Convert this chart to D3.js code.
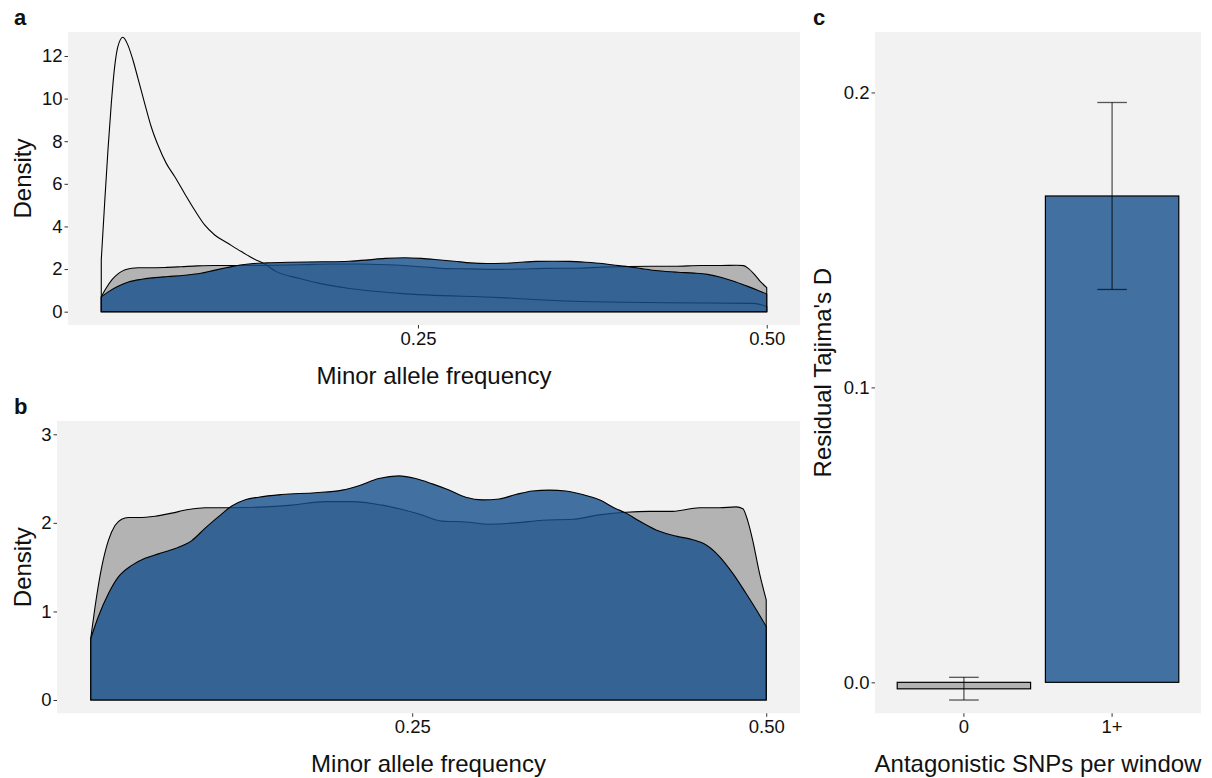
<!DOCTYPE html>
<html>
<head>
<meta charset="utf-8">
<script src="https://cdn.jsdelivr.net/npm/d3@7"></script>
<style>
  body { margin: 0; background: #fff; }
  text { font-family: "Liberation Sans", Arial, Helvetica, sans-serif; fill: #111; }
</style>
</head>
<body>
<svg id="chart" width="1212" height="778"></svg>
<script>
// density curves (minor allele frequency vs density)
const peakMaf = [0.023, 0.0254, 0.0278, 0.0302, 0.0326, 0.0349, 0.0385, 0.0421, 0.0457, 0.0493, 0.0541, 0.0588, 0.0636, 0.0696, 0.0756, 0.0827, 0.0899, 0.0971, 0.1043, 0.1138, 0.1234, 0.1329, 0.1401, 0.1485, 0.1652, 0.1795, 0.2010, 0.2369, 0.3086, 0.3564, 0.4281, 0.4902, 0.5]
const peakDensity = [2.43, 5.08, 7.59, 9.78, 11.5, 12.44, 12.88, 12.51, 11.81, 10.95, 9.78, 8.68, 7.82, 6.96, 6.34, 5.55, 4.77, 4.07, 3.60, 3.21, 2.82, 2.46, 2.24, 1.88, 1.56, 1.33, 1.09, 0.86, 0.66, 0.50, 0.42, 0.39, 0.25]

const greyMaf = [0.023, 0.026, 0.0307, 0.0354, 0.0401, 0.0448, 0.0495, 0.0566, 0.0684, 0.0802, 0.0920, 0.1038, 0.1226, 0.1462, 0.1651, 0.1887, 0.2076, 0.2288, 0.2548, 0.2713, 0.2878, 0.3043, 0.3231, 0.3420, 0.3632, 0.3821, 0.4010, 0.4175, 0.4340, 0.4529, 0.4670, 0.4788, 0.4835, 0.4870, 0.4905, 0.4950, 0.5]
const greyDensity = [0.70, 1.05, 1.50, 1.80, 1.97, 2.04, 2.06, 2.06, 2.075, 2.11, 2.15, 2.17, 2.17, 2.18, 2.20, 2.24, 2.24, 2.20, 2.10, 2.02, 2.01, 1.985, 2.00, 2.03, 2.04, 2.09, 2.12, 2.13, 2.13, 2.17, 2.17, 2.18, 2.16, 2.02, 1.80, 1.45, 1.13]

const blueMaf = [0.023, 0.0283, 0.0354, 0.0425, 0.0519, 0.0613, 0.0708, 0.0826, 0.0943, 0.1038, 0.1132, 0.1226, 0.1321, 0.1415, 0.1580, 0.1816, 0.2005, 0.2123, 0.2264, 0.2406, 0.2524, 0.2642, 0.2760, 0.2878, 0.2996, 0.3114, 0.3231, 0.3349, 0.3467, 0.3585, 0.3703, 0.3821, 0.3939, 0.4010, 0.4104, 0.4222, 0.4364, 0.4481, 0.4576, 0.4670, 0.4764, 0.4859, 0.4930, 0.5]
const blueDensity = [0.695, 0.94, 1.20, 1.39, 1.52, 1.60, 1.65, 1.71, 1.80, 1.94, 2.07, 2.19, 2.26, 2.29, 2.32, 2.34, 2.37, 2.42, 2.50, 2.53, 2.50, 2.44, 2.37, 2.29, 2.26, 2.27, 2.32, 2.36, 2.37, 2.36, 2.32, 2.26, 2.16, 2.11, 2.02, 1.92, 1.85, 1.81, 1.75, 1.62, 1.43, 1.20, 1.02, 0.83]

// bar chart (panel c)
const barCats = ["0", "1+"]
const barMeans = [-0.0022, 0.1649]
const barLow = [-0.0060, 0.1332]
const barHigh = [0.0017, 0.1966]

// tick values
const mafTicks = [0.25, 0.5]
const aTicks = [0, 2, 4, 6, 8, 10, 12]
const bTicks = [0, 1, 2, 3]
const cTicks = [0, 0.1, 0.2]

const svg = d3.select("#chart")
const panelBg = "#f2f2f2"
const greyFill = "#b3b3b3"
const blueFill = "#154f8c"

const mafPad = 0.05 * (0.5 - 0.023)
const mafDomain = [0.023 - mafPad, 0.5 + mafPad]

function styleAxis(g) {
  g.select(".domain").remove()
  g.selectAll(".tick line").attr("stroke", "#333").attr("stroke-width", 1)
  g.selectAll(".tick text").style("font-size", "18.5px").attr("fill", "#111")
}

function densityPanel(left, right, top, bottom, yDomain, yTicks, withPeak, label) {
  const x = d3.scaleLinear().domain(mafDomain).range([left, right])
  const y = d3.scaleLinear().domain(yDomain).range([bottom, top])
  const g = svg.append("g")

  g.append("rect").attr("x", left).attr("y", top)
    .attr("width", right - left).attr("height", bottom - top)
    .attr("fill", panelBg)

  const area = d3.area()
    .x(d => x(d[0]))
    .y0(y(0))
    .y1(d => y(d[1]))
    .curve(d3.curveMonotoneX)

  const grey = greyMaf.map((m, i) => [m, greyDensity[i]])
  const blue = blueMaf.map((m, i) => [m, blueDensity[i]])

  g.append("path").attr("d", area(grey))
    .attr("fill", greyFill).attr("stroke", "#000").attr("stroke-width", 1.1)

  if (withPeak) {
    const peak = peakMaf.map((m, i) => [m, peakDensity[i]])
    g.append("path").attr("d", area(peak))
      .attr("fill", "none").attr("stroke", "#000").attr("stroke-width", 1.1)
  }

  g.append("path").attr("d", area(blue))
    .attr("fill", blueFill).attr("fill-opacity", 0.8)
    .attr("stroke", "#000").attr("stroke-width", 1.1)

  // axes
  g.append("g").attr("transform", "translate(" + left + ",0)")
    .call(d3.axisLeft(y).tickValues(yTicks).tickSize(3.5).tickPadding(2).tickFormat(d3.format("d")))
    .call(styleAxis)

  g.append("g").attr("transform", "translate(0," + bottom + ")")
    .call(d3.axisBottom(x).tickValues(mafTicks).tickSize(3.5).tickPadding(3).tickFormat(d3.format(".2f")))
    .call(styleAxis)

  g.append("text").attr("x", (left + right) / 2).attr("y", bottom + 59)
    .attr("text-anchor", "middle").style("font-size", "24px")
    .text("Minor allele frequency")

  g.append("text")
    .attr("transform", "translate(30.5," + (top + bottom) / 2 + ") rotate(-90)")
    .attr("text-anchor", "middle").style("font-size", "24px")
    .text("Density")

  g.append("text").attr("x", 14).attr("y", top - 7)
    .style("font-size", "22px").style("font-weight", "bold")
    .text(label)
}

densityPanel(68, 800, 32, 325, [-0.625, 13.125], aTicks, true, "a")
densityPanel(57, 800, 421, 713.3, [-0.15, 3.15], bTicks, false, "b")

// panel c: bars with error bars
const cLeft = 875, cRight = 1201, cTop = 32, cBottom = 713.3
const xc = d3.scaleBand().domain(barCats).range([cLeft, cRight])
  .paddingInner(0.1).paddingOuter(0.15)
const yc = d3.scaleLinear().domain([-0.0105, 0.2205]).range([cBottom, cTop])

const gc = svg.append("g")
gc.append("rect").attr("x", cLeft).attr("y", cTop)
  .attr("width", cRight - cLeft).attr("height", cBottom - cTop)
  .attr("fill", panelBg)

gc.selectAll(".bar")
  .data(barCats)
  .enter()
  .append("rect")
    .attr("class", "bar")
    .attr("x", d => xc(d))
    .attr("width", xc.bandwidth())
    .attr("y", (d, i) => yc(Math.max(0, barMeans[i])))
    .attr("height", (d, i) => Math.abs(yc(barMeans[i]) - yc(0)))
    .attr("fill", (d, i) => i === 0 ? greyFill : blueFill)
    .attr("fill-opacity", (d, i) => i === 0 ? 1 : 0.8)
    .attr("stroke", "#000").attr("stroke-width", 1.2)

const whisker = xc.step() * 0.2 / 2
const err = gc.selectAll(".err")
  .data(barCats)
  .enter()
  .append("g")
    .attr("class", "err")
    .attr("stroke", "#000").attr("stroke-opacity", 0.65).attr("stroke-width", 1.3)

err.append("line")
  .attr("x1", d => xc(d) + xc.bandwidth() / 2).attr("x2", d => xc(d) + xc.bandwidth() / 2)
  .attr("y1", (d, i) => yc(barLow[i])).attr("y2", (d, i) => yc(barHigh[i]))
err.append("line")
  .attr("x1", d => xc(d) + xc.bandwidth() / 2 - whisker).attr("x2", d => xc(d) + xc.bandwidth() / 2 + whisker)
  .attr("y1", (d, i) => yc(barHigh[i])).attr("y2", (d, i) => yc(barHigh[i]))
err.append("line")
  .attr("x1", d => xc(d) + xc.bandwidth() / 2 - whisker).attr("x2", d => xc(d) + xc.bandwidth() / 2 + whisker)
  .attr("y1", (d, i) => yc(barLow[i])).attr("y2", (d, i) => yc(barLow[i]))

gc.append("g").attr("transform", "translate(" + cLeft + ",0)")
  .call(d3.axisLeft(yc).tickValues(cTicks).tickSize(3.5).tickPadding(2).tickFormat(d3.format(".1f")))
  .call(styleAxis)

gc.append("g").attr("transform", "translate(0," + cBottom + ")")
  .call(d3.axisBottom(xc).tickSize(3.5).tickPadding(3))
  .call(styleAxis)

gc.append("text").attr("x", (cLeft + cRight) / 2).attr("y", cBottom + 59)
  .attr("text-anchor", "middle").style("font-size", "24px")
  .text("Antagonistic SNPs per window")

gc.append("text")
  .attr("transform", "translate(830.5," + (cTop + cBottom) / 2 + ") rotate(-90)")
  .attr("text-anchor", "middle").style("font-size", "24px")
  .text("Residual Tajima's D")

gc.append("text").attr("x", 813).attr("y", 25)
  .style("font-size", "22px").style("font-weight", "bold")
  .text("c")
</script>
</body>
</html>
